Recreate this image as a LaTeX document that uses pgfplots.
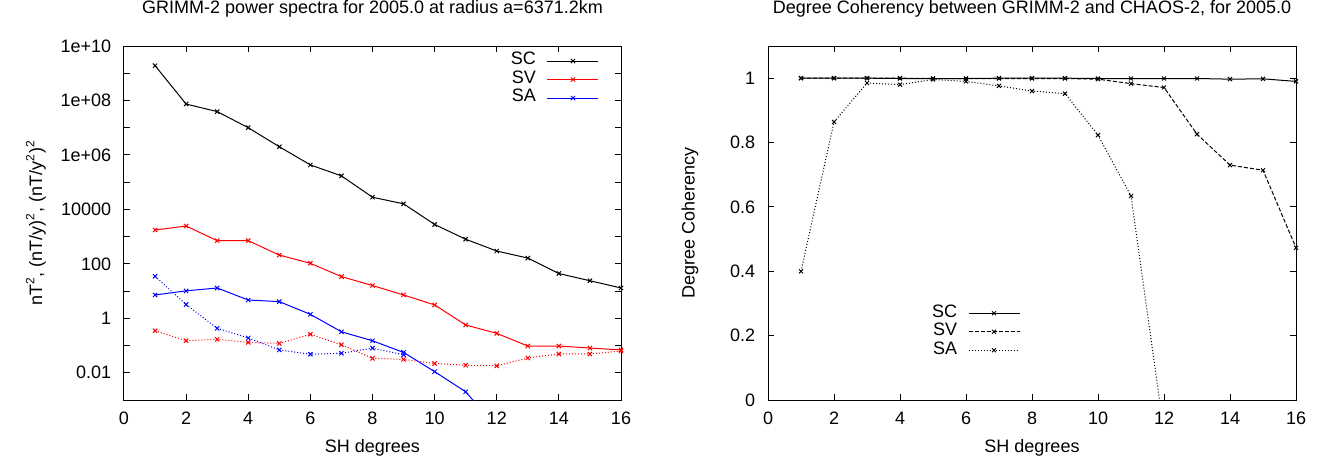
\documentclass[border=0pt]{standalone}
\usepackage{fontspec}
\setmainfont{Liberation Sans}
\usepackage{pgfplots}
\pgfplotsset{compat=1.18}
\definecolor{gpred}{RGB}{255,0,0}
\definecolor{gpblue}{RGB}{0,0,255}
\pgfplotsset{
  gpaxis/.style={
    scale only axis,
    /pgf/number format/assume math mode=true,
    axis line style={line width=0.5pt},
    tick style={line width=0.5pt, black},
    major tick length=3pt,
    tick align=inside,
    xmin=0, xmax=16, xtick={0,2,...,16},
    xminorticks=false, yminorticks=false,
    yticklabel style={xshift=-3.25pt},
    xticklabel style={yshift=-3pt},
    title style={at={(0.5,1)}, anchor=base, yshift=10.5pt, inner sep=0pt},
    xlabel style={at={(axis description cs:0.5,0)}, anchor=base, yshift=-26pt, inner sep=0pt},
    legend plot pos=right,
    legend cell align=right,
    legend image code/.code={\draw[mark repeat=2,mark phase=2,##1] plot coordinates {(0pt,0pt) (12.75pt,0pt) (25.5pt,0pt)};},
    legend style={draw=none, fill=none, inner sep=0pt, outer sep=0pt, anchor=north east,
      column sep=5.5pt, row sep=0pt,
      nodes={inner sep=0pt, text height=6.5pt, text depth=2.75pt}},
  },
}
\begin{document}
\fontsize{9pt}{11pt}\selectfont
\begin{tikzpicture}
\useasboundingbox (0,0) rectangle (663pt,231.5pt);
\begin{axis}[gpaxis,
  at={(62pt,31.5pt)}, anchor=south west,
  width=248.5pt, height=177pt,
  ymode=log, ymin=1e-3, ymax=1e10,
  ytick={1e-3,1e-2,1e-1,1,1e1,1e2,1e3,1e4,1e5,1e6,1e7,1e8,1e9,1e10},
  yticklabels={,0.01,,1,,100,,10000,,1e+06,,1e+08,,1e+10},
  title={GRIMM-2 power spectra for 2005.0 at radius a=6371.2km},
  xlabel={SH degrees},
  ylabel={nT\textsuperscript{2}, (nT/y)\textsuperscript{2}, (nT/y\textsuperscript{2})\textsuperscript{2}},
  ylabel style={at={([xshift=-44pt]axis description cs:0,0.5)}, anchor=center, inner sep=0pt},
  legend style={at={(0.9557,0.9837)}},
  every axis plot/.append style={line width=0.5pt, mark=x, mark size=1.5pt, mark options={solid}},
]
\addplot[black] coordinates {(1,1.9e9)(2,7.4e7)(3,3.9e7)(4,1e7)(5,2e6)(6,4.3e5)(7,1.7e5)(8,2.8e4)(9,1.6e4)(10,2.8e3)(11,800)(12,296)(13,163)(14,44)(15,24)(16,13)};
\addlegendentry{SC}
\addplot[gpred] coordinates {(1,1750)(2,2450)(3,710)(4,710)(5,210)(6,105)(7,34)(8,16)(9,7.2)(10,3.1)(11,0.57)(12,0.28)(13,0.096)(14,0.096)(15,0.081)(16,0.069)};
\addlegendentry{SV}
\addplot[gpblue] coordinates {(1,7.2)(2,10.2)(3,13)(4,4.7)(5,4.1)(6,1.4)(7,0.32)(8,0.15)(9,0.056)(10,0.011)(11,0.002)(12,0.0001)};
\addlegendentry{SA}
\addplot[gpred, dash pattern=on 0.5pt off 1pt, forget plot] coordinates {(1,0.35)(2,0.15)(3,0.17)(4,0.13)(5,0.12)(6,0.26)(7,0.107)(8,0.034)(9,0.031)(10,0.022)(11,0.019)(12,0.018)(13,0.035)(14,0.049)(15,0.049)(16,0.063)};
\addplot[gpblue, dash pattern=on 0.5pt off 1pt, forget plot] coordinates {(1,35)(2,3.2)(3,0.43)(4,0.19)(5,0.069)(6,0.048)(7,0.052)(8,0.080)(9,0.046)};
\end{axis}
\begin{axis}[gpaxis,
  at={(384pt,31.5pt)}, anchor=south west,
  width=264pt, height=177pt,
  ymin=0, ymax=1.1, ytick={0,0.2,...,1.0},
  title={Degree Coherency between GRIMM-2 and CHAOS-2, for 2005.0},
  xlabel={SH degrees},
  ylabel={Degree Coherency},
  ylabel style={at={([xshift=-39pt]axis description cs:0,0.5)}, anchor=center, inner sep=0pt},
  legend style={at={(0.4773,0.2712)}},
  every axis plot/.append style={line width=0.5pt, mark=x, mark size=1.4pt, mark options={solid}},
]
\addplot[black] coordinates {(1,1)(2,1)(3,1)(4,0.999)(5,0.999)(6,0.999)(7,1)(8,1)(9,1)(10,0.999)(11,0.999)(12,0.999)(13,0.999)(14,0.997)(15,0.998)(16,0.99)};
\addlegendentry{SC}
\addplot[black, dash pattern=on 2pt off 1pt] coordinates {(1,1)(2,1)(3,1)(4,1)(5,0.999)(6,0.999)(7,0.999)(8,0.999)(9,0.999)(10,0.997)(11,0.983)(12,0.971)(13,0.826)(14,0.73)(15,0.714)(16,0.473)};
\addlegendentry{SV}
\addplot[black, dash pattern=on 0.5pt off 1pt] coordinates {(1,0.40)(2,0.864)(3,0.985)(4,0.98)(5,0.996)(6,0.99)(7,0.976)(8,0.96)(9,0.952)(10,0.823)(11,0.634)(12,-0.10)};
\addlegendentry{SA}
\end{axis}
\end{tikzpicture}
\end{document}
